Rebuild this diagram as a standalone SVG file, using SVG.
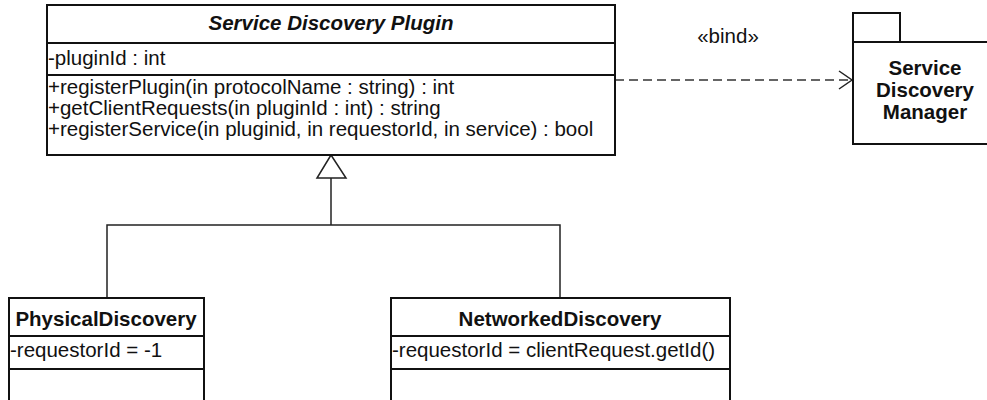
<svg xmlns="http://www.w3.org/2000/svg" width="987" height="400" viewBox="0 0 987 400">
<style>
.box{fill:#fff;stroke:#111;stroke-width:2}
.sep{stroke:#111;stroke-width:2}
.t{font-family:"Liberation Sans",Arial,sans-serif;font-size:20.5px;fill:#111}
.b{font-weight:bold}
.c{text-anchor:middle}
.ln{fill:none;stroke:#222;stroke-width:1.5}
</style>
<rect width="987" height="400" fill="#fff"/>
<g id="connectors">
<polyline class="ln" points="331,178 331,225"/>
<polyline class="ln" points="107,298 107,225 560,225 560,298"/>
<polygon points="331,155 317,178 346,178" fill="#fff" stroke="#222" stroke-width="1.5"/>
<line x1="615" y1="80" x2="852" y2="80" stroke="#333" stroke-width="1.5" stroke-dasharray="9,5"/>
<polyline class="ln" points="839,71 852,80 839,89"/>
<text class="t c" x="728" y="43">«bind»</text>
</g>
<g id="ServiceDiscoveryPlugin">
<rect class="box" x="47" y="5" width="568" height="150"/>
<line class="sep" x1="47" y1="43" x2="615" y2="43"/>
<line class="sep" x1="47" y1="75" x2="615" y2="75"/>
<text class="t c b" x="331" y="30" font-style="italic">Service Discovery Plugin</text>
<text class="t" x="48" y="65">-pluginId : int</text>
<text class="t" x="48" y="94">+registerPlugin(in protocolName : string) : int</text>
<text class="t" x="48" y="115">+getClientRequests(in pluginId : int) : string</text>
<text class="t" x="48" y="136">+registerService(in pluginid, in requestorId, in service) : bool</text>
</g>
<g id="ServiceDiscoveryManager">
<rect class="box" x="853" y="13" width="47" height="29"/>
<rect class="box" x="853" y="42" width="146" height="102"/>
<text class="t c b" x="925" y="75" font-size="21">Service</text>
<text class="t c b" x="925" y="97" font-size="21">Discovery</text>
<text class="t c b" x="925" y="119" font-size="21">Manager</text>
</g>
<g id="PhysicalDiscovery">
<rect class="box" x="9" y="298" width="195" height="110"/>
<line class="sep" x1="9" y1="336" x2="204" y2="336"/>
<line class="sep" x1="9" y1="369" x2="204" y2="369"/>
<text class="t c b" x="106" y="326">PhysicalDiscovery</text>
<text class="t" x="10" y="357">-requestorId = -1</text>
</g>
<g id="NetworkedDiscovery">
<rect class="box" x="391" y="298" width="339" height="110"/>
<line class="sep" x1="391" y1="336" x2="730" y2="336"/>
<line class="sep" x1="391" y1="369" x2="730" y2="369"/>
<text class="t c b" x="560" y="326">NetworkedDiscovery</text>
<text class="t" x="392" y="357">-requestorId = clientRequest.getId()</text>
</g>
</svg>
